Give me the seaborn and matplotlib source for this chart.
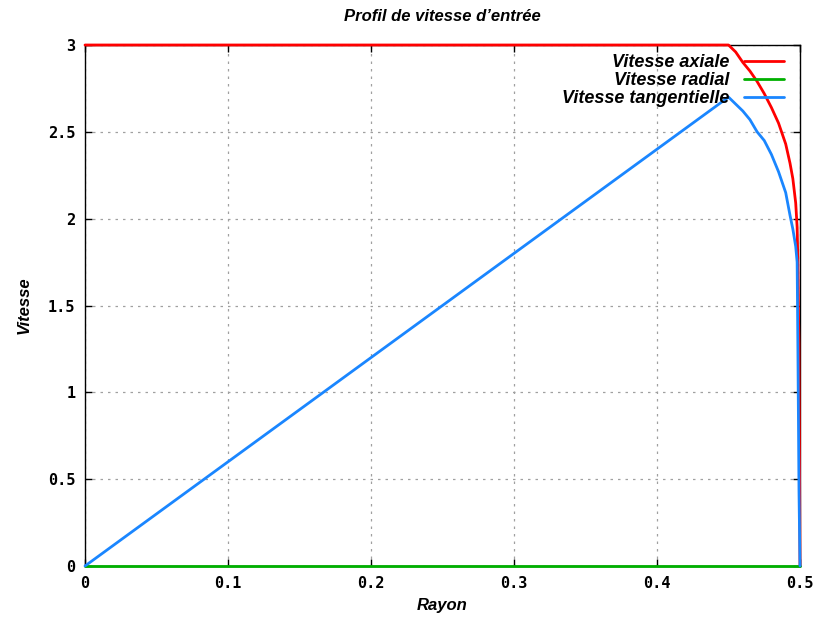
import numpy as np
import pandas as pd
import matplotlib
matplotlib.use("Agg")
import matplotlib.pyplot as plt
import seaborn as sns

# Data
r_axial = [0.0, 0.45, 0.455, 0.46, 0.465, 0.47, 0.475, 0.48, 0.485, 0.49,
           0.493, 0.495, 0.497, 0.498, 0.4985, 0.499, 0.4993, 0.5]
v_axial = [3.0, 3.0, 2.96, 2.90, 2.85, 2.79, 2.72, 2.64, 2.55, 2.43,
           2.32, 2.23, 2.09, 1.95, 1.76, 1.42, 1.28, 0.0]

r_radial = [0.0, 0.5]
v_radial = [0.0, 0.0]

r_tang = [0.0, 0.45, 0.455, 0.46, 0.465, 0.47, 0.475, 0.48, 0.485, 0.49,
          0.493, 0.495, 0.497, 0.498, 0.4985, 0.4993, 0.5]
v_tang = [0.0, 2.70, 2.66, 2.62, 2.57, 2.50, 2.45, 2.37, 2.27, 2.15,
          2.02, 1.94, 1.84, 1.75, 1.28, 0.43, 0.0]

x_ticks = [0, 0.1, 0.2, 0.3, 0.4, 0.5]
x_labels = ["0", "0.1", "0.2", "0.3", "0.4", "0.5"]
y_ticks = [0, 0.5, 1, 1.5, 2, 2.5, 3]
y_labels = ["0", "0.5", "1", "1.5", "2", "2.5", "3"]

labels = ["Vitesse axiale", "Vitesse radial", "Vitesse tangentielle"]
colors = ["#ff0000", "#00b000", "#1a86ff"]

sns.set_theme(style="white")
plt.rcParams['font.family'] = ['DejaVu Sans']
plt.rcParams['text.color'] = 'black'

fig = plt.figure(figsize=(8.2, 6.17), dpi=100)
ax = fig.add_axes([85/820, 1 - 566/617, 715/820, 521/617])

series = [(r_axial, v_axial), (r_radial, v_radial), (r_tang, v_tang)]
for (r, v), lab, col in zip(series, labels, colors):
    df = pd.DataFrame({"Rayon": r, "Vitesse": v})
    sns.lineplot(data=df, x="Rayon", y="Vitesse", ax=ax, sort=False,
                 estimator=None, color=col, linewidth=2.0, label=lab,
                 clip_on=False, zorder=5)

ax.set_xlim(0, 0.5)
ax.set_ylim(0, 3)
ax.set_xticks(x_ticks)
ax.set_xticklabels(x_labels)
ax.set_yticks(y_ticks)
ax.set_yticklabels(y_labels)

for t in ax.get_xticklabels() + ax.get_yticklabels():
    t.set_fontfamily("DejaVu Sans Mono")
    t.set_fontweight("bold")
    t.set_fontsize(11)

ax.tick_params(axis="both", direction="in", length=5, width=1, color="black",
               top=True, right=True, bottom=True, left=True,
               labelcolor="black", pad=7)
ax.grid(True, linestyle=(0, (2, 4)), color="#a0a0a0", linewidth=0.9)
for s in ax.spines.values():
    s.set_color("black")
    s.set_linewidth(1.0)

fam = ["Liberation Sans Narrow", "Liberation Sans", "DejaVu Sans"]
label_font = dict(family=fam, style="italic", weight="bold", size=12, color="black")
ax.set_xlabel("Rayon", fontdict=label_font, labelpad=5)
ax.set_ylabel("Vitesse", fontdict=label_font, labelpad=12)
ax.set_title("Profil de vitesse d\u2019entr\u00e9e",
             fontdict=dict(family=fam, style="italic", weight="bold", size=12,
                           color="black"), pad=17)

leg = ax.legend(loc="upper right", frameon=False, markerfirst=False,
                prop=dict(family=fam, style="italic", weight="bold", size=13),
                handlelength=2.2, handletextpad=0.8, labelspacing=0.05,
                borderaxespad=0.1, bbox_to_anchor=(0.99, 1.0))
for t in leg.get_texts():
    t.set_ha("right")
    t.set_color("black")
leg._legend_box.align = "right"

fig.savefig("out.png", dpi=100)
